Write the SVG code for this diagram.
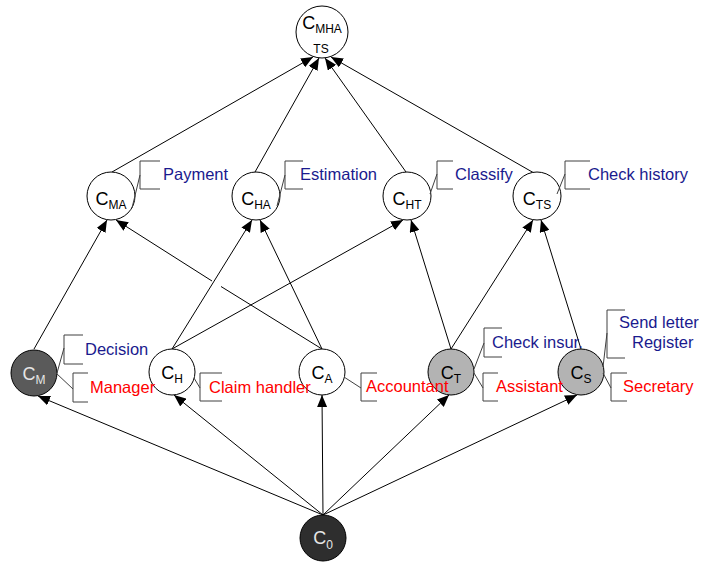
<svg xmlns="http://www.w3.org/2000/svg" width="702" height="563" viewBox="0 0 702 563">
  <style>
    .node { stroke: #000; stroke-width: 1; }
    .white { fill: #fff; }
    .dark { fill: #5a5a5a; }
    .grey { fill: #b3b3b3; }
    .black { fill: #2e2e2e; }
    .edge { stroke: #000; stroke-width: 1; fill: none; }
    .arrow { marker-end: url(#head); }
    .brk { stroke: #404040; stroke-width: 1; fill: none; }
    .nl { font-family: "Liberation Sans", Arial, sans-serif; font-size: 18px; text-anchor: middle; fill: #000; }
    .nl.light { fill: #e6e6e6; }
    .sub { font-size: 12px; }
    .lbl { font-family: "Liberation Sans", Arial, sans-serif; font-size: 16.5px; }
    .act { fill: #1a1a8e; }
    .role { fill: #ff0000; }
  </style>
  <defs>
    <marker id="head" viewBox="0 0 12 10" refX="12" refY="5" markerWidth="12" markerHeight="10" orient="auto" markerUnits="userSpaceOnUse">
      <path d="M0,0 L12,5 L0,10 z" fill="#000"/>
    </marker>
  </defs>

  <!-- connectors -->
  <g id="connectors">
    <!-- middle row to top -->
    <line class="edge arrow" x1="112" y1="172" x2="313" y2="57"/>
    <line class="edge arrow" x1="255" y1="172" x2="319" y2="58"/>
    <line class="edge arrow" x1="406" y1="172" x2="325" y2="58"/>
    <line class="edge arrow" x1="534" y1="173" x2="331" y2="57"/>
    <!-- bottom row to middle row -->
    <line class="edge arrow" x1="34" y1="349" x2="107" y2="220"/>
    <line class="edge" x1="322" y1="349" x2="221" y2="286.5"/>
    <line class="edge arrow" x1="212" y1="281" x2="116" y2="220"/>
    <line class="edge arrow" x1="172" y1="349" x2="252" y2="220"/>
    <line class="edge arrow" x1="322" y1="349" x2="260" y2="220"/>
    <line class="edge arrow" x1="172" y1="349" x2="403" y2="220"/>
    <line class="edge arrow" x1="451" y1="349" x2="411" y2="220"/>
    <line class="edge arrow" x1="451" y1="349" x2="533" y2="220"/>
    <line class="edge arrow" x1="581" y1="349" x2="541" y2="220"/>
    <!-- C0 to bottom row -->
    <line class="edge arrow" x1="323" y1="515" x2="38" y2="396"/>
    <line class="edge arrow" x1="323" y1="515" x2="174" y2="395"/>
    <line class="edge arrow" x1="323" y1="515" x2="322" y2="395"/>
    <line class="edge arrow" x1="323" y1="515" x2="449" y2="395"/>
    <line class="edge arrow" x1="323" y1="515" x2="577" y2="395"/>
  </g>

  <!-- top node -->
  <g id="n-mhats">
    <circle class="node white" cx="322" cy="32" r="26"/>
    <text class="nl" x="322" y="29">C<tspan class="sub" dy="4">MHA</tspan></text>
    <text class="nl sub" x="321" y="53">TS</text>
  </g>

  <!-- middle row -->
  <g id="n-ma">
    <circle class="node white" cx="111" cy="196" r="24"/>
    <text class="nl" x="111" y="205">C<tspan class="sub" dy="4">MA</tspan></text>
    <line class="brk" x1="132" y1="208" x2="140" y2="175"/>
    <path class="brk" d="M160,161 H140 V189 H160"/>
    <text class="lbl act" x="163" y="180">Payment</text>
  </g>
  <g id="n-ha">
    <circle class="node white" cx="256" cy="196" r="24"/>
    <text class="nl" x="256" y="205">C<tspan class="sub" dy="4">HA</tspan></text>
    <line class="brk" x1="277" y1="206" x2="285" y2="175"/>
    <path class="brk" d="M303,161 H285 V189 H303"/>
    <text class="lbl act" x="300" y="180">Estimation</text>
  </g>
  <g id="n-ht">
    <circle class="node white" cx="407" cy="196" r="24"/>
    <text class="nl" x="407" y="205">C<tspan class="sub" dy="4">HT</tspan></text>
    <line class="brk" x1="430" y1="194" x2="437" y2="174"/>
    <path class="brk" d="M453,161 H437 V189 H453"/>
    <text class="lbl act" x="455" y="180">Classify</text>
  </g>
  <g id="n-ts">
    <circle class="node white" cx="537" cy="196" r="24"/>
    <text class="nl" x="537" y="205">C<tspan class="sub" dy="4">TS</tspan></text>
    <line class="brk" x1="557" y1="194" x2="565" y2="174"/>
    <path class="brk" d="M590,161 H565 V189 H590"/>
    <text class="lbl act" x="588" y="180">Check history</text>
  </g>

  <!-- bottom row -->
  <g id="n-m">
    <circle class="node dark" cx="34" cy="373" r="23"/>
    <text class="nl light" x="34" y="380">C<tspan class="sub" dy="4">M</tspan></text>
    <line class="brk" x1="57" y1="373" x2="64" y2="348"/>
    <path class="brk" d="M83,335 H64 V364 H83"/>
    <text class="lbl act" x="85" y="355">Decision</text>
    <line class="brk" x1="56" y1="373" x2="73" y2="389"/>
    <path class="brk" d="M88,373 H73 V402 H88"/>
  </g>
  <g id="n-h">
    <circle class="node white" cx="172" cy="372" r="23"/>
    <text class="nl" x="172" y="379">C<tspan class="sub" dy="4">H</tspan></text>
    <line class="brk" x1="194" y1="378" x2="200" y2="388"/>
    <path class="brk" d="M222,373 H200 V401 H222"/>
  </g>
  <g id="n-a">
    <circle class="node white" cx="322" cy="372" r="23"/>
    <text class="nl" x="322" y="379">C<tspan class="sub" dy="4">A</tspan></text>
    <line class="brk" x1="344" y1="377" x2="361" y2="388"/>
    <path class="brk" d="M377,373 H361 V401 H377"/>
  </g>
  <g id="n-t">
    <circle class="node grey" cx="451" cy="372" r="23"/>
    <text class="nl" x="451" y="379">C<tspan class="sub" dy="4">T</tspan></text>
    <line class="brk" x1="474" y1="369" x2="484" y2="343"/>
    <path class="brk" d="M502,328 H484 V357 H502"/>
    <text class="lbl act" x="492" y="348">Check insur.</text>
    <line class="brk" x1="474" y1="373" x2="483" y2="388"/>
    <path class="brk" d="M498,373 H483 V401 H498"/>
  </g>
  <g id="n-s">
    <circle class="node grey" cx="581" cy="372" r="23"/>
    <text class="nl" x="581" y="379">C<tspan class="sub" dy="4">S</tspan></text>
    <line class="brk" x1="603" y1="367" x2="607" y2="333"/>
    <path class="brk" d="M625,310 H607 V358 H625"/>
    <text class="lbl act" x="619" y="328">Send letter</text>
    <text class="lbl act" x="632" y="348">Register</text>
    <line class="brk" x1="603" y1="373" x2="611" y2="388"/>
    <path class="brk" d="M627,373 H611 V401 H627"/>
    <text class="lbl role" x="623" y="392">Secretary</text>
  </g>

  <!-- role labels drawn over neighbouring circles -->
  <g id="roles">
    <text class="lbl role" x="90" y="393">Manager</text>
    <text class="lbl role" x="209" y="393">Claim handler</text>
    <text class="lbl role" x="366" y="392">Accountant</text>
    <text class="lbl role" x="496" y="392">Assistant</text>
  </g>

  <!-- start node -->
  <g id="n-0">
    <circle class="node black" cx="323" cy="538" r="23"/>
    <text class="nl light" x="323" y="544">C<tspan class="sub" dy="5">0</tspan></text>
  </g>
</svg>
